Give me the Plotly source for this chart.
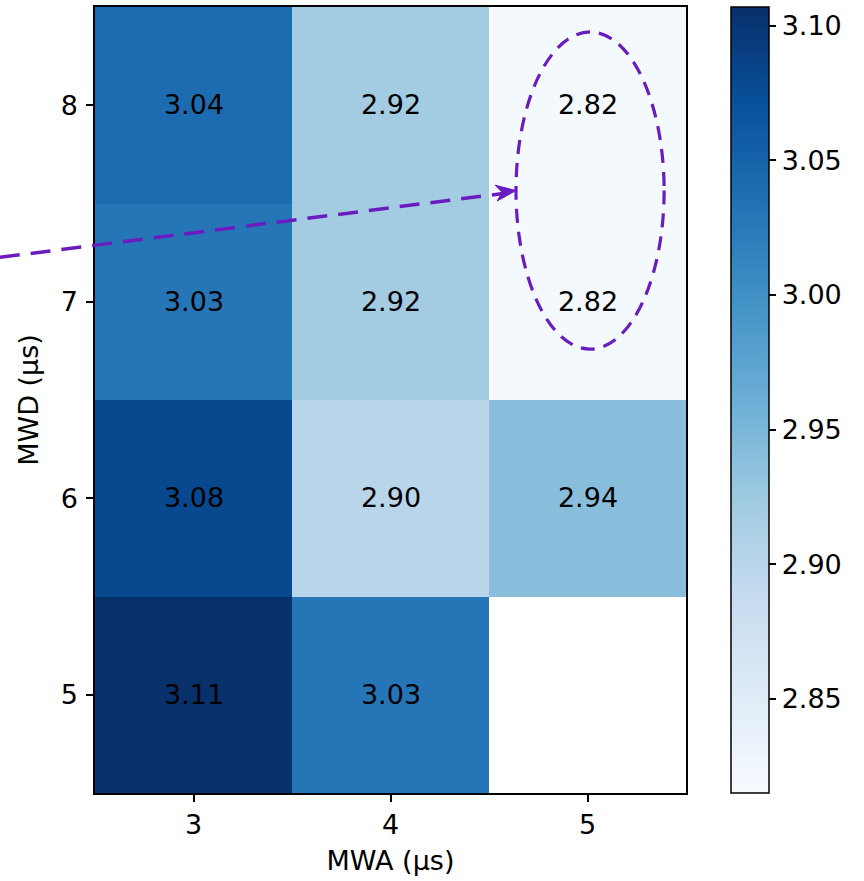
import plotly.graph_objects as go
import plotly.colors as pc

mwa = [3, 4, 5]
mwd = [5, 6, 7, 8]
# rows correspond to MWD 5,6,7,8 ; columns to MWA 3,4,5
values = [
    [3.11, 3.03, None],
    [3.08, 2.90, 2.94],
    [3.03, 2.92, 2.82],
    [3.04, 2.92, 2.82],
]
cbar_ticks = [2.85, 2.90, 2.95, 3.00, 3.05, 3.10]
zmin, zmax = 2.815, 3.107

text = [["" if v is None else f"{v:.2f}" for v in row] for row in values]

FONT = "DejaVu Sans"
FS = 27
PURPLE = "#6A1CC0"

fig = go.Figure(go.Heatmap(
    x=mwa, y=mwd, z=values, text=text, texttemplate="%{text}",
    textfont=dict(family=FONT, size=FS, color="black"),
    colorscale=pc.sequential.Blues, zmin=zmin, zmax=zmax,
    hoverinfo="skip",
    colorbar=dict(
        thickness=38, len=1, lenmode="fraction", y=0.5, yanchor="middle",
        x=1.076, xanchor="left", xpad=0, ypad=0,
        outlinecolor="black", outlinewidth=1.5,
        ticks="outside", ticklen=7, tickwidth=1.5, tickcolor="black",
        tickvals=cbar_ticks, ticktext=[f"{t:.2f}" for t in cbar_ticks],
        tickfont=dict(family=FONT, size=FS, color="black"),
    ),
))

axis_common = dict(
    showline=True, mirror=True, linecolor="black", linewidth=1.5,
    ticks="outside", ticklen=7, tickwidth=1.5, tickcolor="black",
    showgrid=False, zeroline=False,
    tickfont=dict(family=FONT, size=FS, color="black"),
)

fig.update_layout(
    width=864, height=881,
    margin=dict(l=95, r=178, t=5, b=88),
    paper_bgcolor="white", plot_bgcolor="white",
    font=dict(family=FONT, color="black"),
    xaxis=dict(range=[2.5, 5.5], tickvals=mwa,
               title=dict(text="MWA (µs)", font=dict(family=FONT, size=FS), standoff=12),
               **axis_common),
    yaxis=dict(range=[4.5, 8.5], tickvals=mwd, ticklabelstandoff=3,
               title=dict(text="MWD (µs)", font=dict(family=FONT, size=FS), standoff=14),
               **axis_common),
    showlegend=False,
)

# dashed ellipse around the MWA=5, MWD=7..8 cells
fig.add_shape(type="circle", xref="x", yref="y",
              x0=4.637, x1=5.389, y0=6.759, y1=8.373,
              line=dict(color=PURPLE, width=3.2, dash="14px,9px"))

# dashed arrow shaft (paper coords, extends beyond plot area)
fig.add_shape(type="line", xref="paper", yref="paper",
              x0=-0.161, y0=0.6815, x1=0.690, y1=0.7627,
              line=dict(color=PURPLE, width=3.5, dash="20px,11px"))

# arrow head
def px2paper(px, py):
    return (px - 95) / 591, (793 - py) / 788

tip = px2paper(516, 189)
b1 = px2paper(497.2, 199.5)
inner = px2paper(502.1, 190.8)
b2 = px2paper(495.2, 183.7)
path = "M {} {} L {} {} L {} {} L {} {} Z".format(tip[0], tip[1], b1[0], b1[1],
                                                   inner[0], inner[1], b2[0], b2[1])
fig.add_shape(type="path", xref="paper", yref="paper", path=path,
              fillcolor=PURPLE, line=dict(color=PURPLE, width=1))

fig.write_html("out.html")
